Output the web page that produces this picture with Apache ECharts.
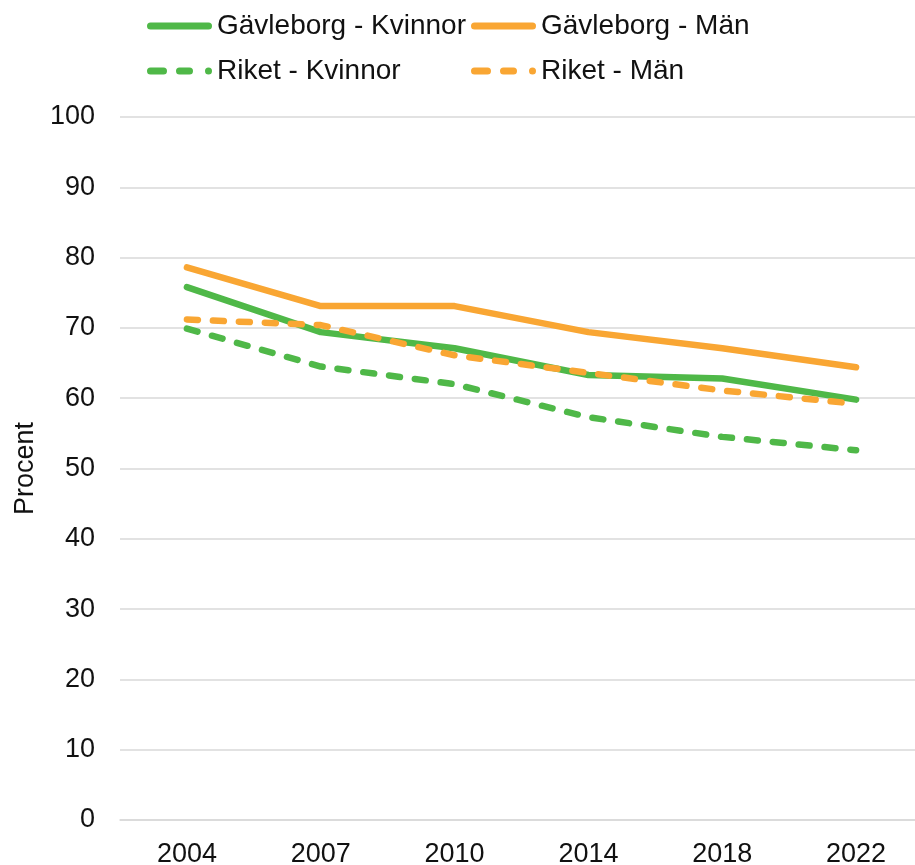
<!DOCTYPE html>
<html>
<head>
<meta charset="utf-8">
<script src="https://cdn.jsdelivr.net/npm/echarts@6/dist/echarts.min.js"></script>
<style>
  html, body { margin: 0; padding: 0; background: #fff; }
  #chart { width: 915px; height: 865px; }
</style>
</head>
<body>
<div id="chart"></div>
<script>
// år på x-axeln
const years = ['2004', '2007', '2010', '2014', '2018', '2022'];

// andel i procent
const gavleborgKvinnor = [75.8, 69.4, 67.1, 63.3, 62.8, 59.8];
const gavleborgMan = [78.6, 73.1, 73.1, 69.4, 67.1, 64.4];
const riketKvinnor = [69.9, 64.5, 62.0, 57.3, 54.5, 52.6];
const riketMan = [71.2, 70.4, 66.1, 63.6, 61.1, 59.2];

const green = '#4fb848';
const orange = '#f9a633';
const font = 'Liberation Sans, Arial, sans-serif';

// legendikoner, hel och streckad linje (65 x 7)
const solidIcon = 'path://M3.5,0 L61.5,0 A3.5,3.5 0 0 1 61.5,7 L3.5,7 A3.5,3.5 0 0 1 3.5,0 Z';
const dashIcon = 'path://M3.5,0 L16.5,0 A3.5,3.5 0 0 1 16.5,7 L3.5,7 A3.5,3.5 0 0 1 3.5,0 Z' +
  ' M32.5,0 L42.5,0 A3.5,3.5 0 0 1 42.5,7 L32.5,7 A3.5,3.5 0 0 1 32.5,0 Z' +
  ' M61.5,0 A3.5,3.5 0 0 1 61.5,7 A3.5,3.5 0 0 1 61.5,0 Z';

const myChart = echarts.init(document.getElementById('chart'));

function line(name, data, color, dashed) {
  return {
    name: name,
    type: 'line',
    data: data,
    symbol: 'none',
    smooth: false,
    lineStyle: {
      color: color,
      width: 6.5,
      type: dashed ? [11, 15] : 'solid',
      cap: 'round',
      join: 'round'
    },
    itemStyle: { color: color }
  };
}

const legendText = { fontFamily: font, fontSize: 28, color: '#111' };

function legendBox(left, names) {
  return {
    orient: 'vertical',
    left: left,
    top: 12,
    padding: 0,
    itemWidth: 65,
    itemHeight: 7,
    itemGap: 17,
    textStyle: legendText,
    data: [
      { name: names[0], icon: solidIcon },
      { name: names[1], icon: dashIcon }
    ]
  };
}

const option = {
  animation: false,
  backgroundColor: '#fff',
  legend: [
    legendBox(147, ['Gävleborg - Kvinnor', 'Riket - Kvinnor']),
    legendBox(471, ['Gävleborg - Män', 'Riket - Män'])
  ],
  grid: {
    left: 120,
    width: 803,
    top: 117,
    bottom: 45,
    containLabel: false,
    outerBoundsMode: 'none'
  },
  xAxis: {
    type: 'category',
    data: years,
    boundaryGap: true,
    axisLine: { show: true, lineStyle: { color: '#d9d9d9', width: 1.5 } },
    axisTick: { show: false },
    axisLabel: { fontFamily: font, fontSize: 27, color: '#111', margin: 21 }
  },
  yAxis: {
    type: 'value',
    min: 0,
    max: 100,
    interval: 10,
    name: 'Procent',
    nameLocation: 'middle',
    nameRotate: 90,
    nameGap: 75,
    nameTextStyle: { fontFamily: font, fontSize: 27, color: '#111' },
    axisLine: { show: false },
    axisTick: { show: false },
    axisLabel: { fontFamily: font, fontSize: 27, color: '#111', margin: 25 },
    splitLine: { lineStyle: { color: '#d9d9d9', width: 1.5 } }
  },
  series: [
    line('Gävleborg - Kvinnor', gavleborgKvinnor, green, false),
    line('Gävleborg - Män', gavleborgMan, orange, false),
    line('Riket - Kvinnor', riketKvinnor, green, true),
    line('Riket - Män', riketMan, orange, true)
  ]
};

myChart.setOption(option);
</script>
</body>
</html>
